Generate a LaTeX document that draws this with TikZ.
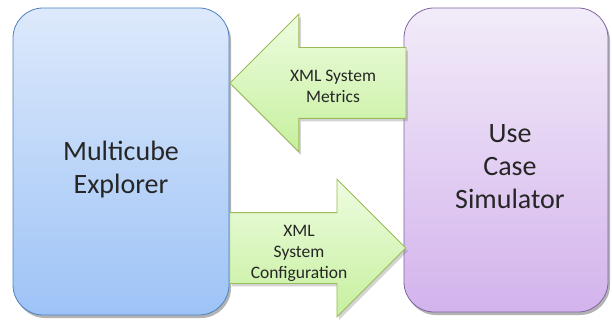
\documentclass[tikz,border=0pt]{standalone}
\usepackage{fontspec}
\setmainfont{Carlito}
\usepackage{tikz}
\usetikzlibrary{shapes.arrows}
\usetikzlibrary{shadows}
\usetikzlibrary{positioning}
\definecolor{boxtext}{HTML}{262626}
\definecolor{mcetop}{HTML}{DDE9FB}
\definecolor{mcebot}{HTML}{9DC3F6}
\definecolor{mceline}{HTML}{4F81BD}
\definecolor{ucstop}{HTML}{F2ECF9}
\definecolor{ucsbot}{HTML}{D3B3EC}
\definecolor{ucsline}{HTML}{8064A2}
\definecolor{flowtop}{HTML}{EEFCE0}
\definecolor{flowbot}{HTML}{C6F09E}
\definecolor{flowline}{HTML}{9BBB59}
\tikzset{every picture/.style={line width=0.8pt}}
\begin{document}
\begin{tikzpicture}[x=1pt,y=-1pt,unit/.style={rectangle, rounded corners=30pt, draw, drop shadow={shadow xshift=2pt, shadow yshift=-3pt, opacity=0.6}},flow/.style={single arrow, single arrow tip angle=90, single arrow head extend=33.5pt, minimum height=176pt, inner xsep=0pt, inner ysep=35pt, draw=flowline, top color=flowtop, bottom color=flowbot, drop shadow={shadow xshift=2pt, shadow yshift=-3pt, opacity=0.35}},big/.style={text=boxtext, align=center, font=\fontsize{28}{33}\selectfont},small/.style={text=boxtext, align=center, font=\fontsize{17.5}{21}\selectfont}]
\useasboundingbox (0,0) rectangle (612,323);
\node (mce) at (121,161.5) [unit, minimum width=216pt, minimum height=307pt, draw=mceline, top color=mcetop, bottom color=mcebot] {};
\node (ucs) at (506,160) [unit, minimum width=204pt, minimum height=304pt, draw=ucsline, top color=ucstop, bottom color=ucsbot] {};
\node (metrics) at (mce.east |- 0,83) [flow, anchor=tip, shape border rotate=180] {};
\node (config) at (mce.east |- 0,248) [flow, anchor=tail] {};
\node (mcetext) at (121,170) [big] {Multicube\\Explorer};
\node (ucstext) at (510,167) [big] {Use\\Case\\Simulator};
\node (metricstext) at (333,86) [small] {XML System\\Metrics};
\node (configtext) at (299,253) [small] {XML\\System\\Configuration};
\end{tikzpicture}
\end{document}
